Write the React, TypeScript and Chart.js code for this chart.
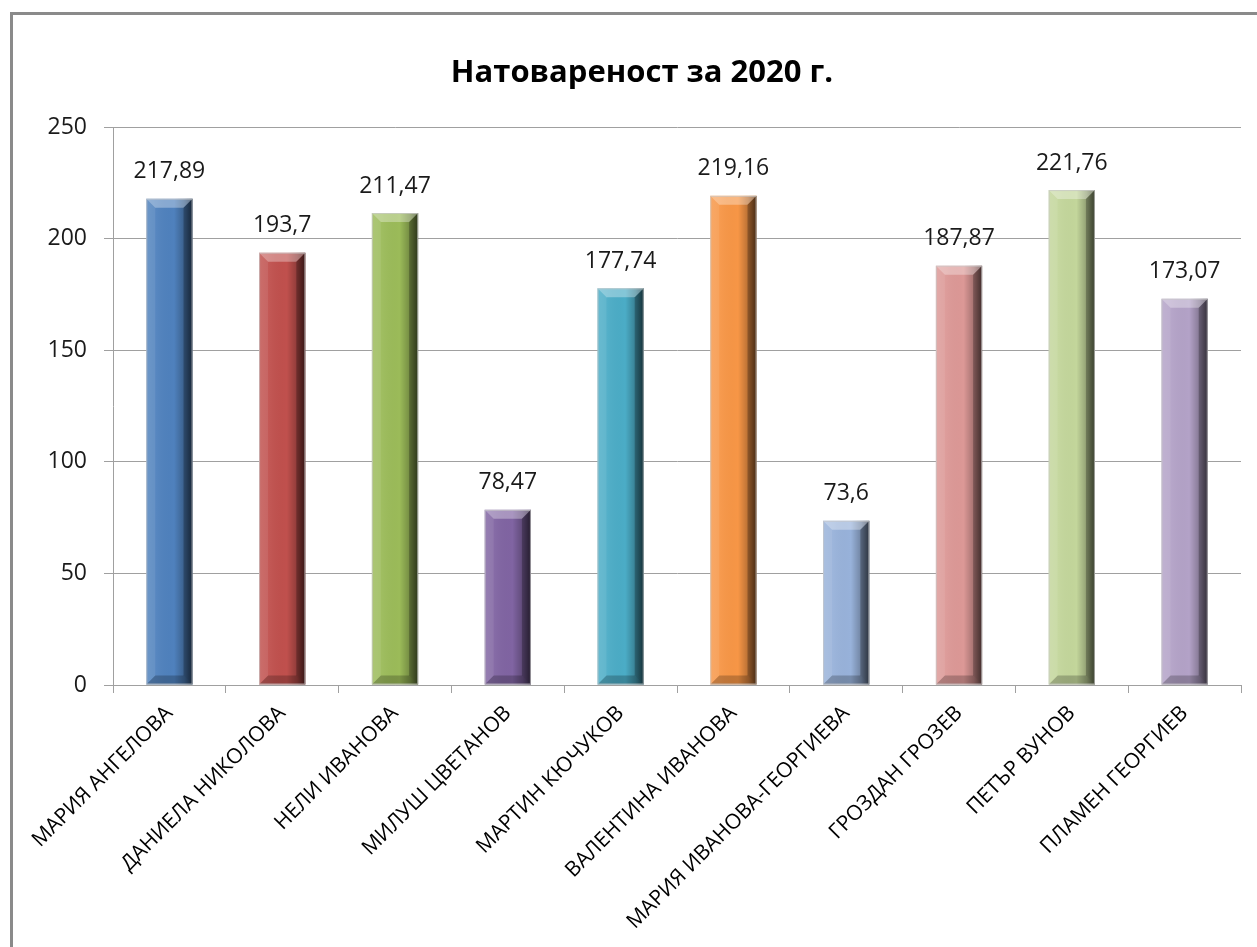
import React, { useEffect, useRef } from "react";
import { Chart, registerables } from "chart.js";

Chart.register(...registerables);

const TITLE = "Натовареност за 2020 г.";
const categories = [
  "МАРИЯ АНГЕЛОВА",
  "ДАНИЕЛА НИКОЛОВА",
  "НЕЛИ ИВАНОВА",
  "МИЛУШ ЦВЕТАНОВ",
  "МАРТИН КЮЧУКОВ",
  "ВАЛЕНТИНА ИВАНОВА",
  "МАРИЯ ИВАНОВА-ГЕОРГИЕВА",
  "ГРОЗДАН ГРОЗЕВ",
  "ПЕТЪР ВУНОВ",
  "ПЛАМЕН ГЕОРГИЕВ",
];
const values = [217.89, 193.7, 211.47, 78.47, 177.74, 219.16, 73.6, 187.87, 221.76, 173.07];
const valueLabels = ["217,89", "193,7", "211,47", "78,47", "177,74", "219,16", "73,6", "187,87", "221,76", "173,07"];
const barColors = [
  "#4F81BD", "#C0504D", "#9BBB59", "#8064A2", "#4BACC6",
  "#F79646", "#98B2DA", "#DC9896", "#C3D69B", "#B3A2C7",
];
const yTicks = [0, 50, 100, 150, 200, 250];

const FONT = "'Open Sans', 'DejaVu Sans', sans-serif";

const bevelPlugin = {
  id: "bevel",
  afterDatasetsDraw(chart: any) {
    const ctx = chart.ctx;
    const meta = chart.getDatasetMeta(0);
    meta.data.forEach((bar: any) => {
      const { x, y, base, width } = bar.getProps(["x", "y", "base", "width"], true);
      const l = x - width / 2;
      const r = x + width / 2;
      const t = Math.min(y, base);
      const b = Math.max(y, base);
      const bv = 9;
      ctx.save();
      const g = ctx.createLinearGradient(l, 0, r, 0);
      g.addColorStop(0, "rgba(255,255,255,0.10)");
      g.addColorStop(0.2, "rgba(255,255,255,0.05)");
      g.addColorStop(0.6, "rgba(0,0,0,0)");
      g.addColorStop(0.82, "rgba(0,0,0,0.25)");
      g.addColorStop(1, "rgba(0,0,0,0.6)");
      ctx.fillStyle = g;
      ctx.fillRect(l, t, r - l, b - t);
      // top bevel
      ctx.beginPath();
      ctx.moveTo(l, t);
      ctx.lineTo(r, t);
      ctx.lineTo(r - bv, t + bv);
      ctx.lineTo(l + bv, t + bv);
      ctx.closePath();
      ctx.fillStyle = "rgba(255,255,255,0.32)";
      ctx.fill();
      // bottom bevel
      ctx.beginPath();
      ctx.moveTo(l, b);
      ctx.lineTo(r, b);
      ctx.lineTo(r - bv, b - bv);
      ctx.lineTo(l + bv, b - bv);
      ctx.closePath();
      ctx.fillStyle = "rgba(0,0,0,0.22)";
      ctx.fill();
      // right side
      ctx.beginPath();
      ctx.moveTo(r, t);
      ctx.lineTo(r, b);
      ctx.lineTo(r - bv, b - bv);
      ctx.lineTo(r - bv, t + bv);
      ctx.closePath();
      ctx.fillStyle = "rgba(0,0,0,0.25)";
      ctx.fill();
      // left side
      ctx.beginPath();
      ctx.moveTo(l, t);
      ctx.lineTo(l, b);
      ctx.lineTo(l + bv, b - bv);
      ctx.lineTo(l + bv, t + bv);
      ctx.closePath();
      ctx.fillStyle = "rgba(255,255,255,0.08)";
      ctx.fill();
      ctx.strokeStyle = "rgba(200,200,200,0.7)";
      ctx.lineWidth = 1;
      ctx.strokeRect(l + 0.5, t + 0.5, r - l - 1, b - t - 1);
      ctx.restore();
    });
  },
};

const labelPlugin = {
  id: "valueLabels",
  afterDraw(chart: any) {
    const ctx = chart.ctx;
    const meta = chart.getDatasetMeta(0);
    ctx.save();
    ctx.font = `23px ${FONT}`;
    ctx.fillStyle = "#1a1a1a";
    ctx.textAlign = "center";
    ctx.textBaseline = "middle";
    meta.data.forEach((bar: any, i: number) => {
      ctx.fillText(valueLabels[i], bar.x, bar.y - 27);
    });
    ctx.font = `bold 31px ${FONT}`;
    ctx.fillStyle = "#000";
    ctx.fillText(TITLE, 642, 73);
    ctx.restore();
  },
};

export default function App() {
  const ref = useRef<HTMLCanvasElement>(null);
  useEffect(() => {
    if (!ref.current) return;
    const chart = new Chart(ref.current, {
      type: "bar",
      data: {
        labels: categories,
        datasets: [
          {
            data: values,
            backgroundColor: barColors,
            borderWidth: 0,
            categoryPercentage: 1,
            barPercentage: 0.41,
          },
        ],
      },
      options: {
        animation: false,
        responsive: false,
        maintainAspectRatio: false,
        layout: { padding: { top: 127, right: 16, left: 0, bottom: 0 } },
        plugins: {
          legend: { display: false },
          title: { display: false },
          tooltip: { enabled: false },
        },
        scales: {
          x: {
            afterFit: (s: any) => {
              s.height = 262;
            },
            grid: {
              offset: true,
              drawOnChartArea: false,
              drawTicks: true,
              tickLength: 8,
              color: "#a0a0a0",
            },
            border: { color: "#a0a0a0", width: 1 },
            ticks: {
              minRotation: 45,
              maxRotation: 45,
              autoSkip: false,
              padding: 8,
              color: "#000",
              font: { family: FONT, size: 21 },
            },
          },
          y: {
            min: 0,
            max: 250,
            afterFit: (s: any) => {
              s.width = 113;
            },
            afterBuildTicks: (s: any) => {
              s.ticks = yTicks.map((v) => ({ value: v }));
            },
            grid: {
              color: "#a0a0a0",
              tickLength: 9,
              lineWidth: 1,
            },
            border: { color: "#a0a0a0", width: 1 },
            ticks: {
              padding: 17,
              color: "#1a1a1a",
              font: { family: FONT, size: 23 },
              callback: (v: any) => String(v),
            },
          },
        },
      },
      plugins: [bevelPlugin, labelPlugin],
    });
    return () => chart.destroy();
  }, []);

  return (
    <div style={{ position: "absolute", left: 0, top: 0, width: 1257, height: 947, background: "#fff", overflow: "hidden" }}>
      <canvas ref={ref} width={1257} height={947} style={{ position: "absolute", left: 0, top: 0 }} />
      <div
        style={{
          position: "absolute",
          left: 10,
          top: 12,
          width: 1400,
          height: 1100,
          borderTop: "3px solid #8a8a8a",
          borderLeft: "3px solid #8a8a8a",
          pointerEvents: "none",
        }}
      />
    </div>
  );
}
